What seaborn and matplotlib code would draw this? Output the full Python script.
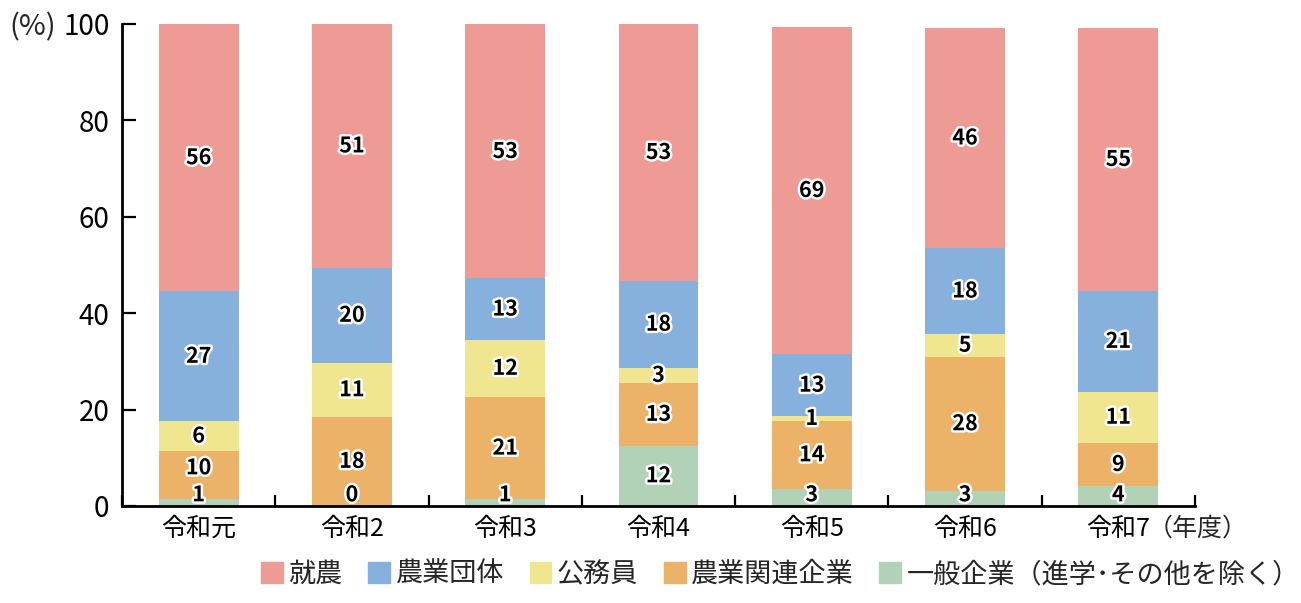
import numpy as np
import seaborn as sns
import matplotlib.pyplot as plt
import matplotlib.patches as mpatches
import matplotlib.patheffects as pe
from matplotlib.ticker import FixedLocator

years = ['令和元', '令和2', '令和3', '令和4', '令和5', '令和6', '令和7']
names = ['就農', '農業団体', '公務員', '農業関連企業', '一般企業（進学･その他を除く）']
colors = ['#EE9A95', '#86B1DD', '#F0E690', '#EBB268', '#B2D2B7']

# segment heights (%)
ippan = [1.4, 0.0, 1.4, 12.5, 3.5, 3.1, 4.1]
kanren = [10.0, 18.5, 21.2, 13.0, 14.2, 27.9, 9.0]
koumuin = [6.2, 11.2, 11.9, 3.2, 0.9, 4.7, 10.6]
dantai = [26.9, 19.7, 12.7, 18.0, 12.9, 17.8, 20.9]
shuno = [55.5, 50.6, 52.7, 53.3, 67.9, 45.7, 54.6]

# numbers printed on the bars
lab_ippan = [1, 0, 1, 12, 3, 3, 4]
lab_kanren = [10, 18, 21, 13, 14, 28, 9]
lab_koumuin = [6, 11, 12, 3, 1, 5, 11]
lab_dantai = [27, 20, 13, 18, 13, 18, 21]
lab_shuno = [56, 51, 53, 53, 69, 46, 55]

sns.set_style("white")
plt.rcParams['font.family'] = ['Noto Sans CJK JP', 'DejaVu Sans']

fig = plt.figure(figsize=(13.01, 6.03), dpi=100)
ax = fig.add_axes([0.0938, 0.161, 0.8247, 0.7992])

# bottom -> top
layers = [ippan, kanren, koumuin, dantai, shuno]
labels = [lab_ippan, lab_kanren, lab_koumuin, lab_dantai, lab_shuno]
layer_cols = colors[::-1]
cum = np.cumsum(np.array(layers), axis=0)

# draw totals first, then smaller cumulative sums on top
for i in range(len(layers) - 1, -1, -1):
    sns.barplot(x=years, y=cum[i], color=layer_cols[i], saturation=1,
                width=0.52, errorbar=None, ax=ax, linewidth=0)

txt_fx = [pe.withStroke(linewidth=3.5, foreground='white')]
for i in range(len(layers)):
    bottoms = cum[i] - np.array(layers[i])
    for j in range(len(years)):
        yc = bottoms[j] + layers[i][j] / 2
        if i == 0:
            yc = max(yc, 2.3)
        elif i == 1 and ippan[j] < 2 and kanren[j] < 12:
            # lift the label a little above the tiny bottom one
            yc += 1.5
        ax.text(j, yc, str(labels[i][j]), ha='center', va='center',
                fontsize=15.5, fontweight='bold', color='black',
                path_effects=txt_fx, zorder=5)

ax.set_ylim(0, 100)
ax.set_xlim(-0.5, len(years) - 0.5)
ax.set_yticks(range(0, 101, 20))
ax.set_xlabel('')
ax.set_ylabel('')
sns.despine(ax=ax)
ax.spines['left'].set_linewidth(2)
ax.spines['bottom'].set_linewidth(2)
ax.spines['left'].set_color('black')
ax.spines['bottom'].set_color('black')

ax.tick_params(axis='y', direction='in', length=10, width=1.6, pad=9,
               labelsize=20, colors='black', left=True)
ax.tick_params(axis='x', which='major', length=0, pad=7, labelsize=18,
               colors='black')
ax.xaxis.set_minor_locator(FixedLocator(np.arange(-0.5, len(years), 1.0)))
ax.tick_params(axis='x', which='minor', direction='in', length=8,
               width=1.6, color='black', bottom=True)

# unit annotations
ytl = ax.get_yticklabels()[-1]
ax.annotate('(%)', xy=(0, 0.5), xycoords=ytl, xytext=(-5, 0),
            textcoords='offset points', ha='right', va='center', fontsize=21)
xtl = ax.get_xticklabels()[-1]
ax.annotate('（年度）', xy=(1, 0.5), xycoords=xtl, xytext=(-2, 0),
            textcoords='offset points', ha='left', va='center', fontsize=18)

handles = [mpatches.Patch(color=c, label=n) for c, n in zip(colors, names)]
fig.legend(handles=handles, loc='center', bbox_to_anchor=(0.6, 0.047),
           ncol=5, frameon=False, fontsize=19.5, handlelength=0.8,
           handleheight=0.8, handletextpad=0.2, columnspacing=0.95)

fig.savefig('out.png', dpi=100)
